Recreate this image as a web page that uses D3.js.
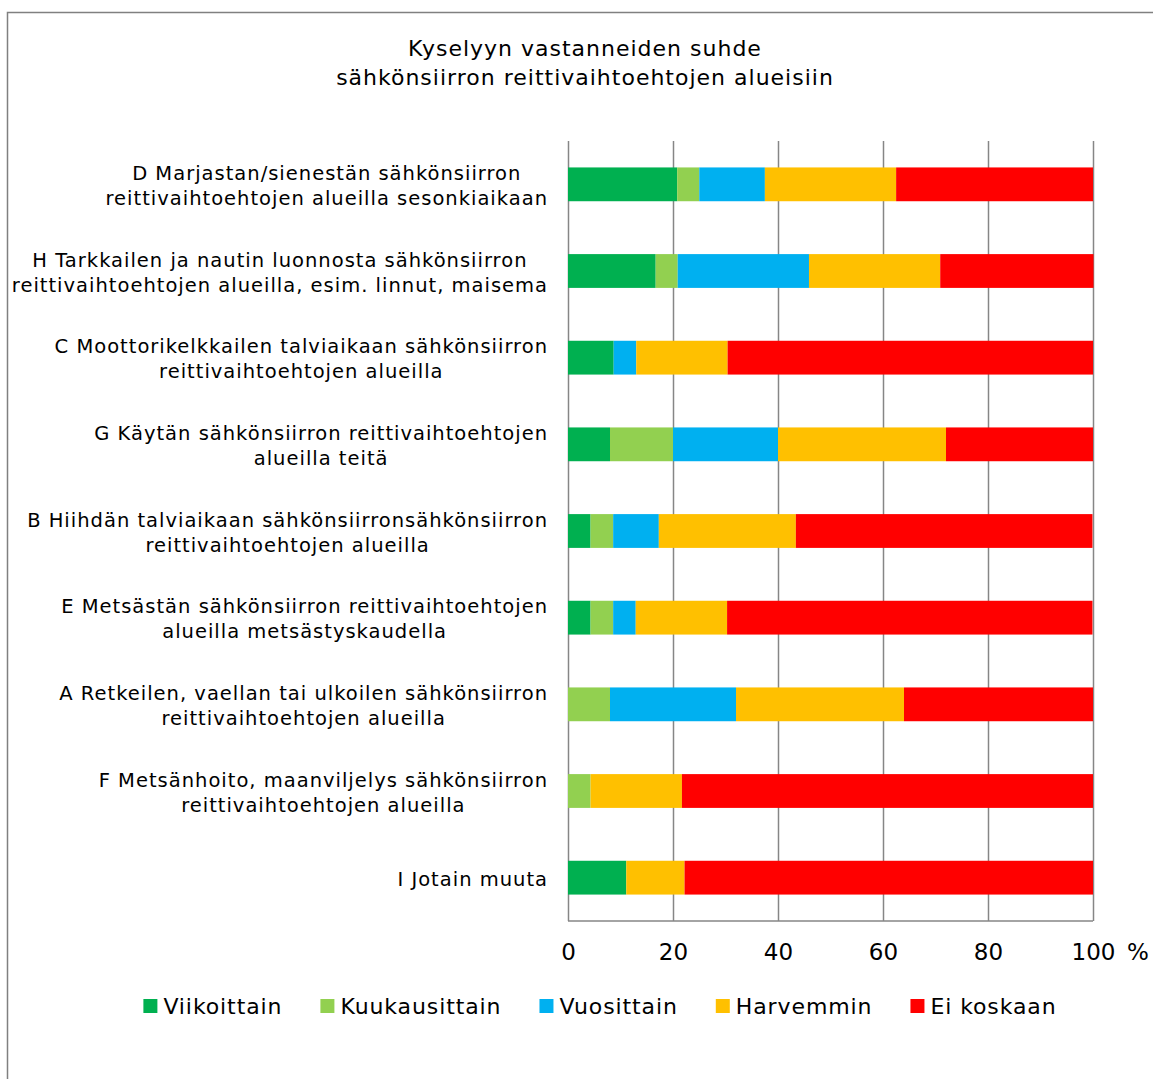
<!DOCTYPE html>
<html>
<head>
<meta charset="utf-8">
<script src="https://cdn.jsdelivr.net/npm/d3@7"></script>
<style>
  body { margin: 0; background: #fff; }
  svg text { font-family: "DejaVu Sans", Verdana, sans-serif; fill: #000; }
</style>
</head>
<body>
<div id="chart"></div>
<script>
;(function () {
  ////////////////////////////////////////////////////////////////////////////////
  // Data (% of respondents)
  const titleLines = [
    'Kyselyyn vastanneiden suhde',
    'sähkönsiirron reittivaihtoehtojen alueisiin',
  ];

  const categories = ['D', 'H', 'C', 'G', 'B', 'E', 'A', 'F', 'I'];
  const categoryLabels = [
    ['D Marjastan/sienestän sähkönsiirron', 'reittivaihtoehtojen alueilla sesonkiaikaan'],
    ['H Tarkkailen ja nautin luonnosta sähkönsiirron', 'reittivaihtoehtojen alueilla, esim. linnut, maisema'],
    ['C Moottorikelkkailen talviaikaan sähkönsiirron', 'reittivaihtoehtojen alueilla'],
    ['G Käytän sähkönsiirron reittivaihtoehtojen', 'alueilla teitä'],
    ['B Hiihdän talviaikaan sähkönsiirronsähkönsiirron', 'reittivaihtoehtojen alueilla'],
    ['E Metsästän sähkönsiirron reittivaihtoehtojen', 'alueilla metsästyskaudella'],
    ['A Retkeilen, vaellan tai ulkoilen sähkönsiirron', 'reittivaihtoehtojen alueilla'],
    ['F Metsänhoito, maanviljelys sähkönsiirron', 'reittivaihtoehtojen alueilla'],
    ['I Jotain muuta'],
  ];

  const seriesNames = ['Viikoittain', 'Kuukausittain', 'Vuosittain', 'Harvemmin', 'Ei koskaan'];
  const seriesColors = ['#00b050', '#92d050', '#00b0f0', '#ffc000', '#ff0000'];

  const viikoittain   = [20.8, 16.7,  8.7,  8.0,  4.3,  4.3,  0.0,  0.0, 11.1];
  const kuukausittain = [ 4.2,  4.2,  0.0, 12.0,  4.3,  4.3,  8.0,  4.3,  0.0];
  const vuosittain    = [12.5, 25.0,  4.3, 20.0,  8.7,  4.3, 24.0,  0.0,  0.0];
  const harvemmin     = [25.0, 25.0, 17.4, 32.0, 26.1, 17.4, 32.0, 17.4, 11.1];
  const eiKoskaan     = [37.5, 29.2, 69.6, 28.0, 56.5, 69.6, 36.0, 78.3, 77.8];

  const xTicks = [0, 20, 40, 60, 80, 100];

  ////////////////////////////////////////////////////////////////////////////////
  // Setup
  const W = 1153, H = 1079;
  const margin = { left: 568, top: 141, right: 60, bottom: 158 };
  const width = W - margin.left - margin.right;
  const height = H - margin.top - margin.bottom;

  const svg = d3.select('#chart').append('svg')
    .attr('width', W)
    .attr('height', H);

  // outer chart border (only left and top visible in the picture)
  svg.append('rect')
    .attr('x', 7.5)
    .attr('y', 12.5)
    .attr('width', W + 20)
    .attr('height', H + 20)
    .attr('fill', 'none')
    .attr('stroke', '#808080')
    .attr('stroke-width', 1.5);

  // title
  svg.append('g').selectAll('text')
    .data(titleLines)
    .join('text')
      .attr('x', 585)
      .attr('y', (d, i) => 56 + i * 29)
      .attr('text-anchor', 'middle')
      .style('font-size', '22px')
      .style('letter-spacing', '1px')
      .text(d => d);

  const frame = svg.append('g')
    .attr('transform', `translate(${margin.left} ${margin.top})`);

  const xScale = d3.scaleLinear()
    .domain([0, 100])
    .range([0, width]);
  const yScale = d3.scaleBand()
    .domain(categories)
    .range([0, height])
    .paddingInner(0.61)
    .paddingOuter(0.305);

  // gridlines
  frame.append('g')
    .attr('class', 'grid')
    .attr('transform', `translate(0 ${height})`)
    .call(d3.axisBottom(xScale).tickValues(xTicks).tickSize(-height).tickFormat(''))
    .call(g => g.select('.domain').remove())
    .call(g => g.selectAll('line').attr('stroke', '#868686').attr('stroke-width', 1.5));

  // bottom axis line
  frame.append('line')
    .attr('x1', 0)
    .attr('x2', width)
    .attr('y1', height)
    .attr('y2', height)
    .attr('stroke', '#868686')
    .attr('stroke-width', 1.5);

  // stacked bars
  const rows = categories.map((c, i) => ({
    key: c,
    'Viikoittain': viikoittain[i],
    'Kuukausittain': kuukausittain[i],
    'Vuosittain': vuosittain[i],
    'Harvemmin': harvemmin[i],
    'Ei koskaan': eiKoskaan[i],
  }));
  const stacked = d3.stack().keys(seriesNames)(rows);

  frame.append('g')
    .selectAll('g')
    .data(stacked)
    .join('g')
      .attr('fill', (d, i) => seriesColors[i])
    .selectAll('rect')
    .data(d => d)
    .join('rect')
      .attr('x', d => xScale(d[0]))
      .attr('y', d => yScale(d.data.key))
      .attr('width', d => xScale(d[1]) - xScale(d[0]))
      .attr('height', yScale.bandwidth());

  // x axis labels
  const xAxis = frame.append('g')
    .attr('transform', `translate(0 ${height})`)
    .call(d3.axisBottom(xScale).tickValues(xTicks).tickSize(0).tickPadding(0))
    .call(g => g.select('.domain').remove());
  xAxis.selectAll('text')
    .attr('y', 39)
    .attr('dy', null)
    .style('font-size', '23px')
    .attr('fill', '#000');

  frame.append('text')
    .attr('x', xScale(100) + 34)
    .attr('y', height + 39)
    .style('font-size', '23px')
    .text('%');

  // category labels: lines centred within a block whose right edge sits by the axis
  const labels = frame.append('g')
    .selectAll('text')
    .data(categories)
    .join('text')
      .attr('text-anchor', 'middle')
      .attr('y', d => yScale(d) + yScale.bandwidth() / 2)
      .style('font-size', '19.5px')
      .style('letter-spacing', '1px');
  labels.each(function (d, i) {
    const lines = categoryLabels[i];
    const el = d3.select(this);
    const spans = lines.map((line, j) => el.append('tspan')
      .attr('dy', j === 0 ? (8 - (lines.length - 1) * 12.5) : 25)
      .text(line));
    const maxW = d3.max(spans, s => s.node().getComputedTextLength());
    const cx = -20 - maxW / 2;
    spans.forEach(s => s.attr('x', cx));
  });

  // legend
  const legend = svg.append('g')
    .attr('transform', 'translate(0 1006)');
  const items = legend.selectAll('g')
    .data(seriesNames)
    .join('g');
  items.append('rect')
    .attr('x', 0)
    .attr('y', -7)
    .attr('width', 14)
    .attr('height', 14)
    .attr('fill', (d, i) => seriesColors[i]);
  items.append('text')
    .attr('x', 20)
    .attr('y', 8)
    .style('font-size', '22px')
    .style('letter-spacing', '0.9px')
    .text(d => d);

  let offset = 0;
  const positions = [];
  items.each(function () {
    positions.push(offset);
    offset += 20 + this.querySelector('text').getComputedTextLength() + 38;
  });
  const total = offset - 38;
  const start = 600 - total / 2;
  items.attr('transform', (d, i) => `translate(${start + positions[i]} 0)`);
})();
</script>
</body>
</html>
